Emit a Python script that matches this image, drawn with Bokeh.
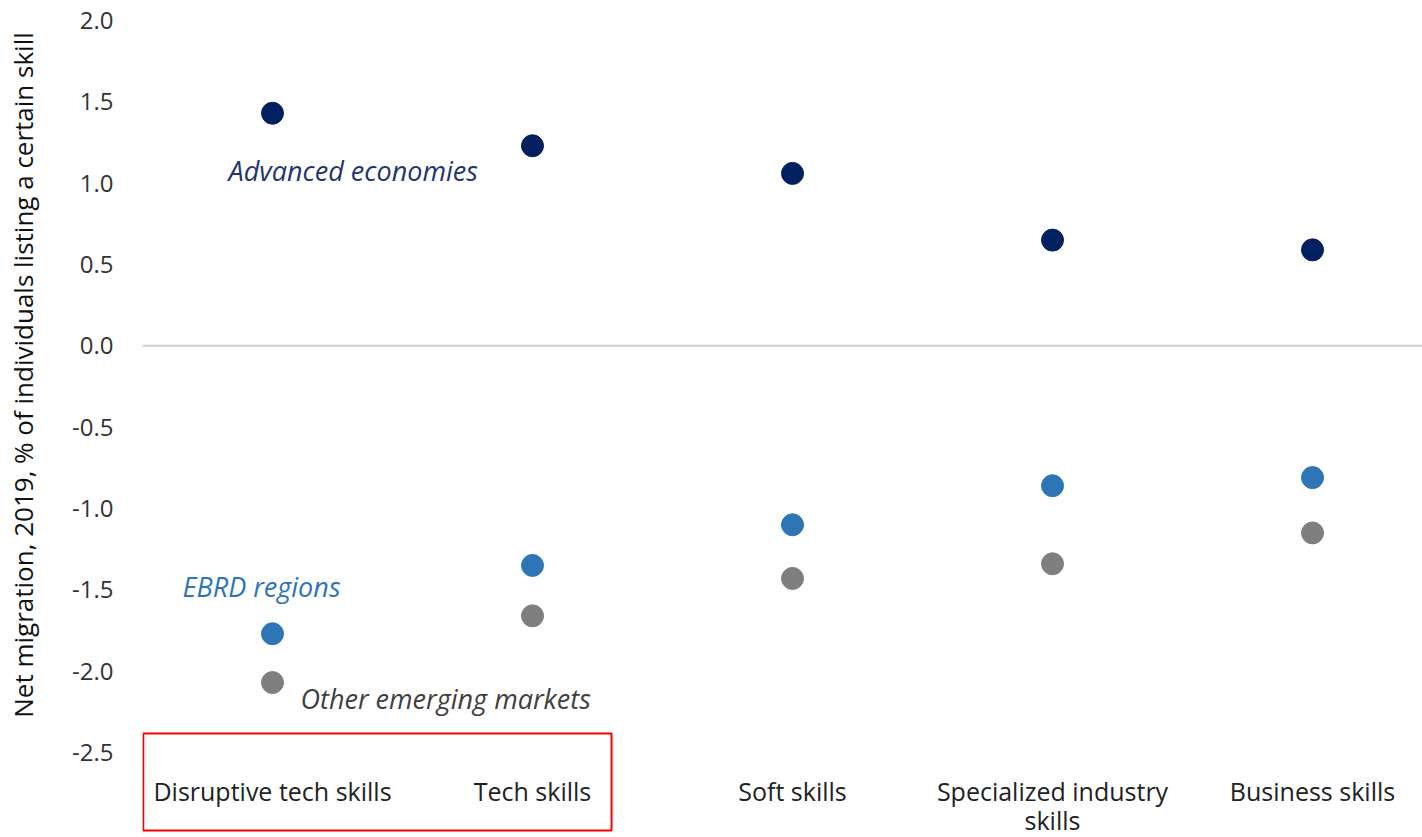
from bokeh.plotting import figure
from bokeh.models import FixedTicker, NumeralTickFormatter, Span, Label, BoxAnnotation, Range1d
from bokeh.core.properties import value
from bokeh.embed import file_html
from bokeh.resources import INLINE

categories = ["Disruptive tech skills", "Tech skills", "Soft skills",
              "Specialized industry\nskills", "Business skills"]
advanced = [1.43, 1.23, 1.06, 0.65, 0.59]
ebrd = [-1.77, -1.35, -1.10, -0.86, -0.81]
other_em = [-2.07, -1.66, -1.43, -1.34, -1.15]
y_ticks = [-2.5, -2.0, -1.5, -1.0, -0.5, 0.0, 0.5, 1.0, 1.5, 2.0]
y_title = "Net migration, 2019, % of individuals listing a certain skill"

FONT = "Open Sans"
x = list(range(len(categories)))

# frame: x from -0.5 to 4.423, y from 2.0 (top) down below -2.5 to host the category labels
p = figure(width=1422, height=837, frame_width=1280, frame_height=817,
           output_backend="svg", toolbar_location=None,
           x_range=Range1d(-0.5, 4.423), y_range=Range1d(-3.0225, 2.0),
           min_border_left=142, min_border_right=0, min_border_top=20, min_border_bottom=0)
p.outline_line_color = None
p.xgrid.grid_line_color = None
p.ygrid.grid_line_color = None
p.xaxis.visible = False

p.add_layout(Span(location=0, dimension="width", line_color="#d0d0d0", line_width=2))

p.scatter(x, advanced, size=22, color="#002060")
p.scatter(x, ebrd, size=22, color="#2E75B6")
p.scatter(x, other_em, size=22, color="#7F7F7F")

# y axis
ya = p.yaxis[0]
ya.ticker = FixedTicker(ticks=y_ticks)
ya.formatter = NumeralTickFormatter(format="0.0")
ya.axis_line_color = None
ya.major_tick_line_color = None
ya.minor_tick_line_color = None
ya.major_tick_out = 0
ya.major_tick_in = 0
ya.minor_tick_out = 0
ya.minor_tick_in = 0
ya.major_label_text_font = FONT
ya.major_label_text_font_size = "24px"
ya.major_label_text_color = "#333333"
ya.major_label_standoff = 29
# leading no-break spaces lift the centred title to where the reference places it
ya.axis_label = "\u00a0" * 16 + y_title
ya.axis_label_text_font = FONT
ya.axis_label_text_font_size = "26px"
ya.axis_label_text_font_style = "normal"
ya.axis_label_text_color = "#111111"
ya.axis_label_standoff = 28

# category labels under the plotting area
p.text(x, [-2.635] * len(x), text=categories, text_font=value(FONT),
       text_font_size="25px", text_align="center", text_baseline="top",
       text_line_height=0.84, text_color="#222222")

# series labels
p.add_layout(Label(x=-0.169, y=1.078, text="Advanced economies", text_font=FONT,
                   text_font_size="27px", text_font_style="italic", text_color="#1F3570",
                   text_baseline="middle"))
p.add_layout(Label(x=-0.346, y=-1.479, text="EBRD regions", text_font=FONT,
                   text_font_size="27px", text_font_style="italic", text_color="#2E75B6",
                   text_baseline="middle"))
p.add_layout(Label(x=0.108, y=-2.168, text="Other emerging markets", text_font=FONT,
                   text_font_size="27px", text_font_style="italic", text_color="#404040",
                   text_baseline="middle"))

# red highlight box around the first two category labels
p.add_layout(BoxAnnotation(left=-0.497, right=1.304, top=-2.383, bottom=-2.979,
                           fill_color=None, fill_alpha=0, line_color="#FF0000",
                           line_alpha=1.0, line_width=2, level="overlay"))

open("out.html", "w").write(file_html(p, INLINE))
